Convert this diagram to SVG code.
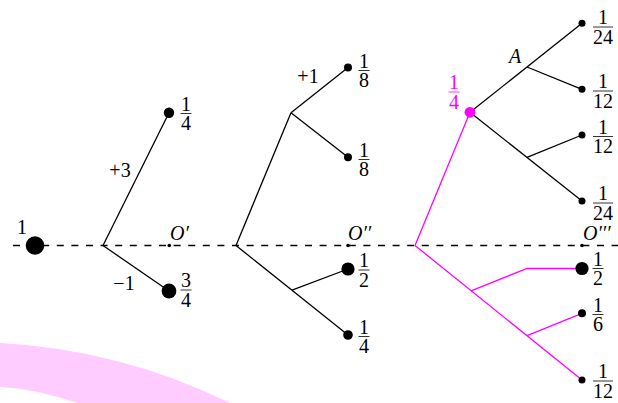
<svg xmlns="http://www.w3.org/2000/svg" width="618" height="403" viewBox="0 0 618 403" font-family="'Liberation Serif', 'DejaVu Serif', serif">
<style>
  text { font-family: 'Liberation Serif', 'DejaVu Serif', serif; font-size: 20px; fill: #000; }
  .it { font-style: italic; }
  .mid { text-anchor: middle; }
  .pk { fill: #ff00ff; }
  .edge { stroke: #000; stroke-width: 1.3; fill: none; }
  .pedge { stroke: #ff00ff; stroke-width: 1.3; fill: none; }
  .bar { stroke: #000; stroke-width: 0.8; }
  .pbar { stroke: #ff00ff; stroke-width: 0.8; }
  .node { fill: #000; }
  .axis { stroke: #000; stroke-width: 1.3; stroke-dasharray: 7 7.6; }
</style>

<!-- background pink band -->
<path d="M 0 342.9 A 592 592 0 0 1 230 403 L 77 403 A 290 290 0 0 0 0 386.7 Z" fill="#ffccff"/>

<!-- dashed axis -->
<line class="axis" x1="13" y1="245.5" x2="618" y2="245.5"/>

<g id="connectors">
  <line class="edge" x1="103" y1="245.5" x2="169" y2="112.7"/>
  <line class="edge" x1="103" y1="245.5" x2="169" y2="291"/>
  <line class="edge" x1="236" y1="245.5" x2="291" y2="112.7"/>
  <line class="edge" x1="291" y1="112.7" x2="348" y2="67.5"/>
  <line class="edge" x1="291" y1="112.7" x2="348" y2="157.3"/>
  <line class="edge" x1="236" y1="245.5" x2="348" y2="335"/>
  <line class="edge" x1="292" y1="290.2" x2="348" y2="269"/>
  <line class="edge" x1="470" y1="112.3" x2="582" y2="23.3"/>
  <line class="edge" x1="527" y1="67" x2="582" y2="89.3"/>
  <line class="edge" x1="470" y1="112.3" x2="582" y2="201"/>
  <line class="edge" x1="527" y1="157.4" x2="582" y2="135"/>
  <line class="pedge" x1="415" y1="245.5" x2="470" y2="112.3"/>
  <line class="pedge" x1="415" y1="245.5" x2="582" y2="380"/>
  <polyline class="pedge" points="471,290.8 527,268.5 582,268.5"/>
  <line class="pedge" x1="527" y1="335.6" x2="582" y2="313.3"/>
</g>

<g id="n-one">
  <circle class="node" cx="35" cy="245.5" r="9.3"/>
  <text class="mid" x="22" y="234">1</text>
</g>

<g id="n-oprime">
  <circle class="node" cx="169.3" cy="245.5" r="1.8"/>
  <text class="it" x="170" y="239.5">O′</text>
</g>

<g id="n-quarter1">
  <circle class="node" cx="169" cy="112.7" r="5.2"/>
  <text class="mid" x="186" y="110.5">1</text>
  <line class="bar" x1="180.5" y1="113.5" x2="191.5" y2="113.5"/>
  <text class="mid" x="186" y="130">4</text>
  <text class="mid" x="120" y="176.5">+3</text>
</g>

<g id="n-threequarter">
  <circle class="node" cx="169" cy="291" r="7.4"/>
  <text class="mid" x="186" y="287">3</text>
  <line class="bar" x1="180.5" y1="290" x2="191.5" y2="290"/>
  <text class="mid" x="186" y="306.5">4</text>
  <text class="mid" x="124" y="290">−1</text>
</g>

<g id="n-odprime">
  <circle class="node" cx="348" cy="245.5" r="1.8"/>
  <text class="it" x="348" y="240">O′′</text>
</g>

<g id="n-eighth1">
  <circle class="node" cx="348" cy="67.5" r="4"/>
  <text class="mid" x="364" y="67.5">1</text>
  <line class="bar" x1="358.5" y1="70.5" x2="369.5" y2="70.5"/>
  <text class="mid" x="364" y="87">8</text>
  <text class="mid" x="308" y="83">+1</text>
</g>

<g id="n-eighth2">
  <circle class="node" cx="348" cy="157.3" r="4"/>
  <text class="mid" x="364" y="156.5">1</text>
  <line class="bar" x1="358.5" y1="159.5" x2="369.5" y2="159.5"/>
  <text class="mid" x="364" y="176">8</text>
</g>

<g id="n-half1">
  <circle class="node" cx="348" cy="269" r="6.6"/>
  <text class="mid" x="364" y="267">1</text>
  <line class="bar" x1="358.5" y1="270" x2="369.5" y2="270"/>
  <text class="mid" x="364" y="286.5">2</text>
</g>

<g id="n-quarter2">
  <circle class="node" cx="348" cy="335" r="4.8"/>
  <text class="mid" x="364" y="333.5">1</text>
  <line class="bar" x1="358.5" y1="336.5" x2="369.5" y2="336.5"/>
  <text class="mid" x="364" y="353">4</text>
</g>

<g id="n-pinkquarter">
  <circle cx="470" cy="112.3" r="5.4" fill="#ff00ff"/>
  <text class="mid pk" x="454" y="89">1</text>
  <line class="pbar" x1="448.5" y1="92" x2="459.5" y2="92"/>
  <text class="mid pk" x="454" y="108.5">4</text>
</g>

<g id="n-A">
  <text class="it mid" x="515" y="63">A</text>
</g>

<g id="n-24a">
  <circle class="node" cx="582" cy="23.3" r="3.5"/>
  <text class="mid" x="603" y="24">1</text>
  <line class="bar" x1="593" y1="27" x2="613" y2="27"/>
  <text class="mid" x="603" y="43.5">24</text>
</g>

<g id="n-12a">
  <circle class="node" cx="582" cy="89.3" r="3.5"/>
  <text class="mid" x="603" y="88">1</text>
  <line class="bar" x1="593" y1="91" x2="613" y2="91"/>
  <text class="mid" x="603" y="107.5">12</text>
</g>

<g id="n-12b">
  <circle class="node" cx="582" cy="135" r="3.5"/>
  <text class="mid" x="603" y="133.5">1</text>
  <line class="bar" x1="593" y1="136.5" x2="613" y2="136.5"/>
  <text class="mid" x="603" y="153">12</text>
</g>

<g id="n-24b">
  <circle class="node" cx="582" cy="201" r="3.5"/>
  <text class="mid" x="603" y="200">1</text>
  <line class="bar" x1="593" y1="203" x2="613" y2="203"/>
  <text class="mid" x="603" y="219.5">24</text>
</g>

<g id="n-otprime">
  <circle class="node" cx="582" cy="245.5" r="1.8"/>
  <text class="it" x="583" y="240">O′′′</text>
</g>

<g id="n-half2">
  <circle class="node" cx="582" cy="268.5" r="6.6"/>
  <text class="mid" x="598" y="265.5">1</text>
  <line class="bar" x1="592.5" y1="268.5" x2="603.5" y2="268.5"/>
  <text class="mid" x="598" y="285">2</text>
</g>

<g id="n-sixth">
  <circle class="node" cx="582" cy="313.3" r="4"/>
  <text class="mid" x="598" y="311.5">1</text>
  <line class="bar" x1="592.5" y1="314.5" x2="603.5" y2="314.5"/>
  <text class="mid" x="598" y="331">6</text>
</g>

<g id="n-12c">
  <circle class="node" cx="582" cy="380" r="3.5"/>
  <text class="mid" x="603" y="378">1</text>
  <line class="bar" x1="593" y1="381" x2="613" y2="381"/>
  <text class="mid" x="603" y="397.5">12</text>
</g>
</svg>
